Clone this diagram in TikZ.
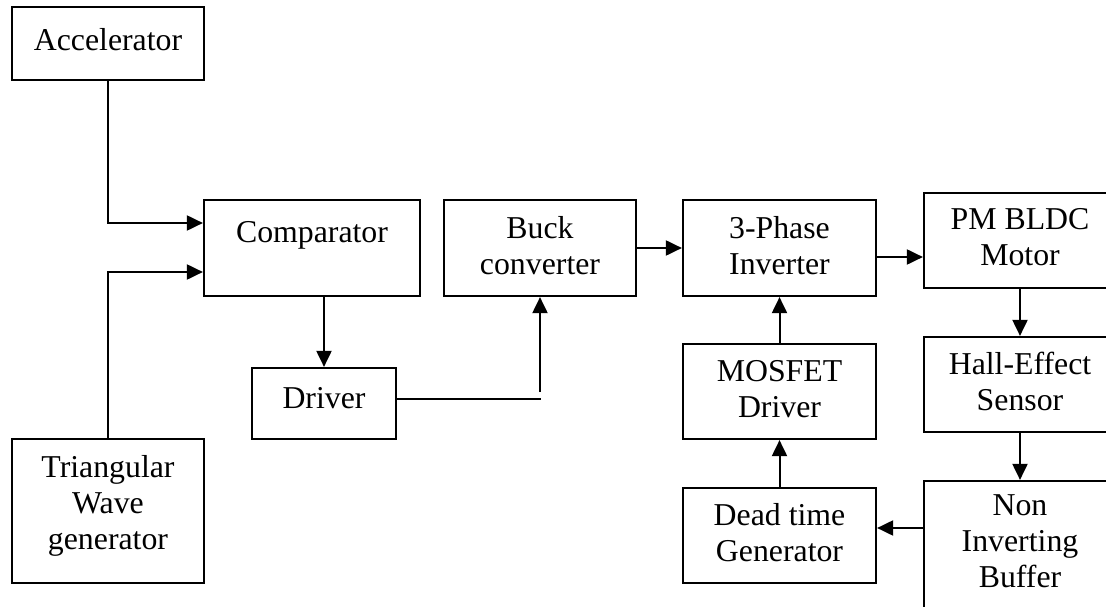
\documentclass[tikz,border=0pt]{standalone}
\usepackage{fontspec}
\setmainfont{Liberation Serif}
\usetikzlibrary{arrows.meta}
\begin{document}
\begin{tikzpicture}[x=1pt,y=-1pt,
  blk/.style={draw, line width=2.2pt, inner sep=0pt},
  lbl/.style={font=\fontsize{31.8}{36}\selectfont, align=center, anchor=north, inner sep=0pt, execute at begin node=\strut},
  arr/.style={line width=2pt, -{Triangle[length=16pt,width=15pt]}},
  ln/.style={line width=2pt}]
\useasboundingbox (0,0) rectangle (1106,607);
\clip (0,0) rectangle (1106,607);
% boxes
\node[blk, minimum width=192pt, minimum height=73pt]  (acc)  at (108,43.5)   {};
\node[blk, minimum width=216pt, minimum height=96pt]  (comp) at (312,248)    {};
\node[blk, minimum width=192pt, minimum height=96pt]  (buck) at (540,248)    {};
\node[blk, minimum width=193pt, minimum height=96pt]  (inv)  at (779.5,248)  {};
\node[blk, minimum width=192pt, minimum height=95pt]  (pm)   at (1020,240.5) {};
\node[blk, minimum width=144pt, minimum height=71pt]  (drv)  at (324,403.5)  {};
\node[blk, minimum width=193pt, minimum height=95pt]  (mos)  at (779.5,391.5) {};
\node[blk, minimum width=192pt, minimum height=95pt]  (hall) at (1020,384.5) {};
\node[blk, minimum width=192pt, minimum height=144pt] (tri)  at (108,511)    {};
\node[blk, minimum width=193pt, minimum height=95pt]  (dead) at (779.5,535.5) {};
\node[blk, minimum width=192pt, minimum height=159pt] (buf)  at (1020,560.5) {};
% texts
\node[lbl] (acc-t)  at (108,24.8)    {Accelerator};
\node[lbl] (comp-t) at (312,216.8)   {Comparator};
\node[lbl] (drv-t)  at (324,382.8)   {Driver};
\node[lbl] (tri-t)  at (108,454.8)   {Triangular\\Wave\\generator};
\node[lbl] (buck-t) at (540,215.8)   {Buck\\converter};
\node[lbl] (inv-t)  at (779.5,215.8) {3-Phase\\Inverter};
\node[lbl] (pm-t)   at (1020,207.8)  {PM BLDC\\Motor};
\node[lbl] (mos-t)  at (779.5,359.8) {MOSFET\\Driver};
\node[lbl] (hall-t) at (1020,351.8)  {Hall-Effect\\Sensor};
\node[lbl] (dead-t) at (779.5,502.8) {Dead time\\Generator};
\node[lbl] (buf-t)  at (1020,494.8)  {Non\\Inverting\\Buffer};
% connectors
\draw[arr] (acc.south) |- (comp.west |- 0,223);
\draw[arr] (tri.north) |- (comp.west |- 0,272);
\draw[arr] (drv.north |- comp.south) -- (drv.north);
\coordinate (j1) at (541,399);
\coordinate (j2) at (540,392);
\draw[ln] (drv.east |- j1) -- (j1);
\draw[arr] (j2) -- (buck.south);
\draw[arr] (buck.east) -- (inv.west);
\draw[arr] (inv.east |- 0,257) -- (pm.west |- 0,257);
\draw[arr] (pm.south) -- (hall.north);
\draw[arr] (hall.south) -- (buf.north);
\draw[arr] (buf.west |- 0,528) -- (dead.east |- 0,528);
\draw[arr] (dead.north) -- (mos.south);
\draw[arr] (mos.north) -- (inv.south);
\end{tikzpicture}
\end{document}
